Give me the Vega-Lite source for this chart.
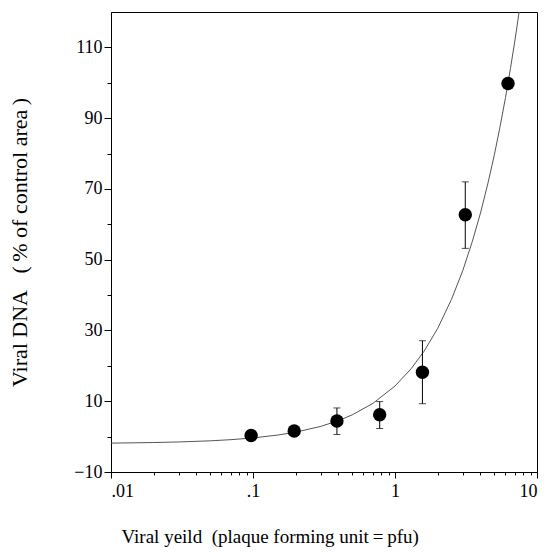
{
  "$schema": "https://vega.github.io/schema/vega-lite/v6.json",
  "width": 426,
  "height": 460,
  "autosize": "none",
  "padding": {"left": 111, "top": 12, "right": 17, "bottom": 80},
  "background": "white",
  "config": {
    "view": {"stroke": "#000", "strokeWidth": 1},
    "axis": {"labelFont": "Liberation Serif", "titleFont": "Liberation Serif", "labelColor": "#000", "titleColor": "#000", "domainColor": "#000", "tickColor": "#000", "grid": false, "titleFontWeight": "normal"}
  },
  "datasets": {
    "pts": [
      {"x": 0.097, "y": 0.3},
      {"x": 0.195, "y": 1.6},
      {"x": 0.39, "y": 4.4, "lo": 0.6, "hi": 8.1},
      {"x": 0.78, "y": 6.2, "lo": 2.3, "hi": 9.9},
      {"x": 1.56, "y": 18.2, "lo": 9.3, "hi": 27.1},
      {"x": 3.125, "y": 62.7, "lo": 53.2, "hi": 72.0},
      {"x": 6.25, "y": 99.8}
    ],
    "curve": [
      {"x": 0.01, "y": -1.84}, {"x": 0.02, "y": -1.67}, {"x": 0.03, "y": -1.51},
      {"x": 0.05, "y": -1.19}, {"x": 0.07, "y": -0.86}, {"x": 0.1, "y": -0.37},
      {"x": 0.15, "y": 0.45}, {"x": 0.2, "y": 1.26}, {"x": 0.3, "y": 2.89},
      {"x": 0.4, "y": 4.52}, {"x": 0.5, "y": 6.15}, {"x": 0.7, "y": 9.41},
      {"x": 1, "y": 14.3}, {"x": 1.3, "y": 19.2}, {"x": 1.6, "y": 24.1},
      {"x": 2, "y": 30.6}, {"x": 2.5, "y": 38.8}, {"x": 3, "y": 46.9},
      {"x": 3.5, "y": 55.1}, {"x": 4, "y": 63.2}, {"x": 4.5, "y": 71.4},
      {"x": 5, "y": 79.5}, {"x": 5.5, "y": 87.7}, {"x": 6, "y": 95.8},
      {"x": 6.5, "y": 104.0}, {"x": 7, "y": 112.1}, {"x": 7.5, "y": 120.3}
    ],
    "minorx": [
      {"x": 0.02}, {"x": 0.03}, {"x": 0.04}, {"x": 0.05}, {"x": 0.06}, {"x": 0.07}, {"x": 0.08}, {"x": 0.09},
      {"x": 0.2}, {"x": 0.3}, {"x": 0.4}, {"x": 0.5}, {"x": 0.6}, {"x": 0.7}, {"x": 0.8}, {"x": 0.9},
      {"x": 2}, {"x": 3}, {"x": 4}, {"x": 5}, {"x": 6}, {"x": 7}, {"x": 8}, {"x": 9}
    ]
  },
  "layer": [
    {
      "data": {"name": "curve"},
      "mark": {"type": "line", "color": "#555", "strokeWidth": 1, "clip": true},
      "encoding": {
        "x": {"field": "x", "type": "quantitative", "scale": {"type": "log", "domain": [0.01, 10], "nice": false},
          "axis": {"values": [0.01, 0.1, 1, 10], "labelExpr": "datum.value == 0.01 ? '.01' : datum.value == 0.1 ? '.1' : datum.label", "labelFontSize": 18, "tickSize": 6, "labelPadding": 4, "title": "Viral yeild\u00a0\u00a0(plaque forming unit\u2009=\u2009pfu)", "titleFontSize": 19, "titlePadding": 27, "titleAnchor": "start", "titleAlign": "left", "titleX": 10, "orient": "bottom"}},
        "y": {"field": "y", "type": "quantitative", "scale": {"domain": [-10, 120], "nice": false, "zero": false},
          "axis": {"values": [-10, 10, 30, 50, 70, 90, 110], "labelFontSize": 18, "tickSize": 7, "labelPadding": 2, "title": "Viral DNA\u00a0\u00a0\u00a0(\u2009% of control area\u2009)", "titleFontSize": 22, "titlePadding": 42, "orient": "left"}}
      }
    },
    {
      "data": {"name": "minorx"},
      "mark": {"type": "point", "opacity": 0},
      "encoding": {
        "x": {"field": "x", "type": "quantitative", "axis": {"values": [0.02,0.03,0.04,0.05,0.06,0.07,0.08,0.09,0.2,0.3,0.4,0.5,0.6,0.7,0.8,0.9,2,3,4,5,6,7,8,9], "labels": false, "tickSize": 3, "domain": false, "title": null, "orient": "bottom"}},
        "y": {"datum": 0, "type": "quantitative", "axis": {"values": [0, 20, 40, 60, 80, 100], "labels": false, "tickSize": 4, "domain": false, "title": null, "orient": "left"}}
      }
    },
    {
      "data": {"name": "pts"},
      "transform": [{"filter": "isValid(datum.lo)"}],
      "layer": [
        {"mark": {"type": "rule", "color": "#000", "strokeWidth": 1},
         "encoding": {"x": {"field": "x", "type": "quantitative", "axis": null}, "y": {"field": "lo", "type": "quantitative", "axis": null}, "y2": {"field": "hi"}}},
        {"mark": {"type": "tick", "color": "#000", "size": 7, "thickness": 1, "orient": "horizontal"},
         "encoding": {"x": {"field": "x", "type": "quantitative", "axis": null}, "y": {"field": "lo", "type": "quantitative", "axis": null}}},
        {"mark": {"type": "tick", "color": "#000", "size": 7, "thickness": 1, "orient": "horizontal"},
         "encoding": {"x": {"field": "x", "type": "quantitative", "axis": null}, "y": {"field": "hi", "type": "quantitative", "axis": null}}}
      ]
    },
    {
      "data": {"name": "pts"},
      "mark": {"type": "circle", "color": "#000", "opacity": 1, "size": 180},
      "encoding": {
        "x": {"field": "x", "type": "quantitative", "axis": null},
        "y": {"field": "y", "type": "quantitative", "axis": null}
      }
    }
  ],
  "resolve": {"axis": {"x": "independent", "y": "independent"}}
}
